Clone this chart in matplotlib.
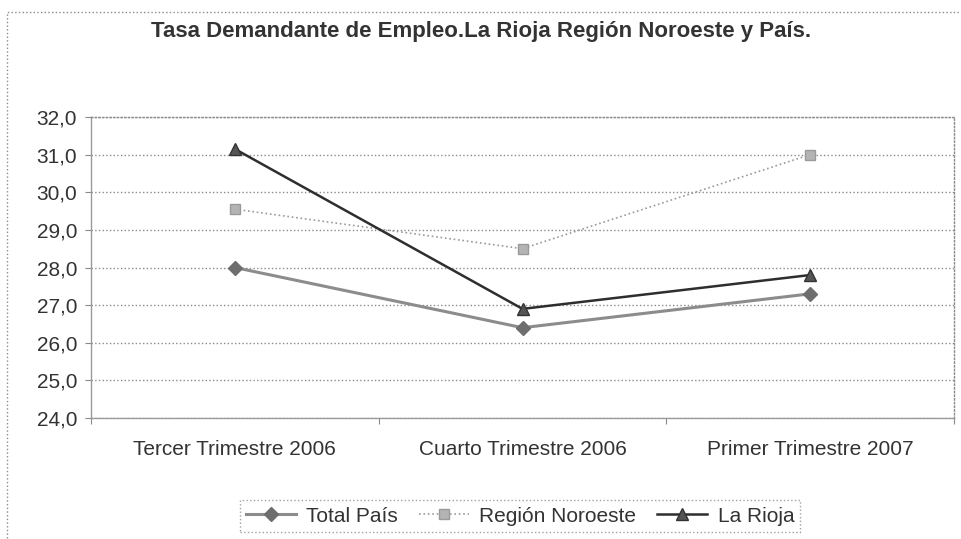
import numpy as np
import matplotlib.pyplot as plt
from matplotlib.patches import Rectangle

# %% data
categories = ['Tercer Trimestre 2006', 'Cuarto Trimestre 2006', 'Primer Trimestre 2007']
total_pais = [28.0, 26.4, 27.3]
region_noroeste = [29.55, 28.5, 31.0]
la_rioja = [31.15, 26.9, 27.8]
y_ticks = [24, 25, 26, 27, 28, 29, 30, 31, 32]

title = 'Tasa Demandante de Empleo.La Rioja Región Noroeste y País.'

plt.rcParams['font.family'] = ['Liberation Sans', 'DejaVu Sans']

# %% figure
fig = plt.figure(figsize=(9.61, 5.39), dpi=100)
ax = fig.add_axes([91 / 961, 1 - 418 / 539, (954 - 91) / 961, (418 - 117) / 539])

# outer chart border (dotted, runs off the right/bottom edge)
fig.patches.append(Rectangle((7 / 961, -0.05), 1.2, 1 - 12 / 539 + 0.05,
                             transform=fig.transFigure, fill=False,
                             edgecolor='#8a8a8a', linestyle=':', linewidth=1.0))

x = np.arange(len(categories))
ax.plot(x, total_pais, color='#8c8c8c', linewidth=2.2, marker='D', markersize=7,
        markerfacecolor='#6e6e6e', markeredgecolor='#6e6e6e', label='Total País')
ax.plot(x, region_noroeste, color='#9a9a9a', linewidth=1.2, linestyle=':', marker='s',
        markersize=7, markerfacecolor='#b4b4b4', markeredgecolor='#9a9a9a',
        label='Región Noroeste')
ax.plot(x, la_rioja, color='#2e2e2e', linewidth=1.8, marker='^', markersize=8,
        markerfacecolor='#555555', markeredgecolor='#333333', label='La Rioja')

ax.set_xlim(-0.5, 2.5)
ax.set_ylim(24, 32)
ax.set_yticks(y_ticks)
ax.set_yticklabels([f'{v:.1f}'.replace('.', ',') for v in y_ticks], fontsize=15)
ax.yaxis.grid(True, color='#8a8a8a', linestyle=':', linewidth=1.0)
ax.set_axisbelow(True)

# ticks between categories, labels centred on categories
ax.set_xticks([-0.5, 0.5, 1.5, 2.5])
ax.set_xticklabels([])
ax.set_xticks(x, minor=True)
ax.set_xticklabels(categories, minor=True, fontsize=15)
ax.tick_params(axis='x', which='major', direction='out', length=4, color='#8a8a8a')
ax.tick_params(axis='x', which='minor', length=0, pad=16, colors='#333333')
ax.tick_params(axis='y', direction='out', length=4, color='#8a8a8a', pad=6,
               labelcolor='#333333')

for s in ax.spines.values():
    s.set_color('#8a8a8a')
    s.set_linestyle(':')
    s.set_linewidth(1.0)
ax.spines['left'].set_linestyle('-')
ax.spines['left'].set_color('#9a9a9a')
ax.spines['bottom'].set_linestyle('-')
ax.spines['bottom'].set_color('#9a9a9a')

fig.text(481 / 961, 1 - 32 / 539, title, ha='center', va='center',
         fontsize=16, fontweight='bold', color='#333333')

leg = fig.legend(loc='center', bbox_to_anchor=(520 / 961, 1 - 516 / 539), ncol=3,
                 fontsize=15, frameon=True, fancybox=False, handlelength=2.4,
                 columnspacing=1.0, handletextpad=0.5, borderpad=0.3,
                 labelcolor='#333333')
leg.get_frame().set_edgecolor('#8a8a8a')
leg.get_frame().set_linestyle(':')
leg.get_frame().set_linewidth(1.0)

fig.savefig('out.png', dpi=100)
